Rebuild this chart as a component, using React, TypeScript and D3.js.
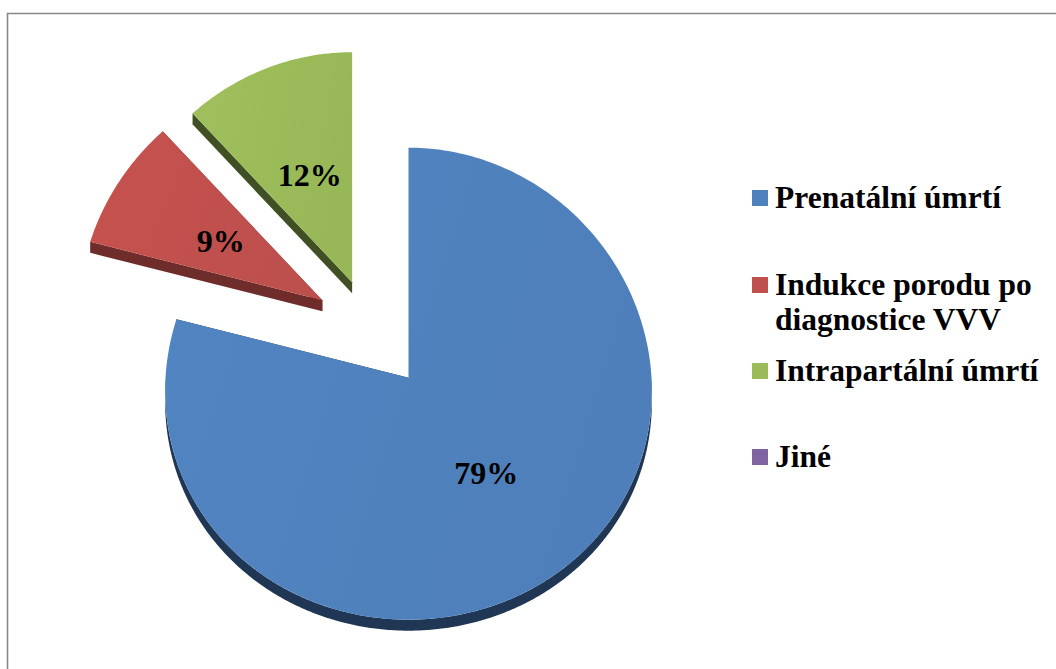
import React from "react";
import * as d3 from "d3";

const categories = ["Prenatální úmrtí", "Indukce porodu po diagnostice VVV", "Intrapartální úmrtí", "Jiné"];
const legendLines = [["Prenatální úmrtí"], ["Indukce porodu po", "diagnostice VVV"], ["Intrapartální úmrtí"], ["Jiné"]];
const values = [79, 9, 12, 0];
const topColors = ["#4F81BD", "#C0504D", "#9BBB59", "#8064A2"];
const sideColors = ["#1F3654", "#6E2C2A", "#414F25", "#3E2F52"];
const explode = [62, 56, 50, 0];

const W = 1056, H = 669;
const C = { x: 370.5, y: 328.7 };
const RX = 243, RY = 236, PERSP_Y = 6, PERSP_X = 0.056, DEPTH = 11;

function proj(ax: number, ay: number, th: number, f = 1) {
  const s = 1 - PERSP_X * Math.cos(th);
  const x = ax + RX * Math.sin(th) * s * f;
  const y = ay + f * (-RY * Math.cos(th) + PERSP_Y * Math.cos(th) * Math.cos(th));
  return [x, y];
}

export default function App() {
  const pie = d3.pie<number>().sort(null).startAngle(0).endAngle(2 * Math.PI);
  const arcs = pie(values);
  const slices = arcs
    .map((a, i) => {
      if (a.endAngle - a.startAngle <= 0) return null;
      const mid = (a.startAngle + a.endAngle) / 2;
      const ax = C.x + explode[i] * Math.sin(mid);
      const ay = C.y - explode[i] * Math.cos(mid);
      const steps = Math.max(4, Math.ceil(((a.endAngle - a.startAngle) * 180) / Math.PI));
      const angs = d3.range(steps + 1).map((k) => a.startAngle + ((a.endAngle - a.startAngle) * k) / steps);
      const topPts = angs.map((t) => proj(ax, ay, t));
      const line = d3.line();
      const top = line([[ax, ay], ...topPts] as [number, number][]) + "Z";
      const lo = Math.max(a.startAngle, Math.PI / 2);
      const hi = Math.min(a.endAngle, (3 * Math.PI) / 2);
      let wall: string | null = null;
      if (hi > lo) {
        const n = Math.ceil(((hi - lo) * 180) / Math.PI) * 2;
        const wa = d3.range(n + 1).map((k) => lo + ((hi - lo) * k) / n);
        const up = wa.map((t) => proj(ax, ay, t));
        const dn = wa.map((t) => { const p = proj(ax, ay, t); return [p[0], p[1] + DEPTH]; }).reverse();
        wall = line([...up, ...dn] as [number, number][]) + "Z";
      }
      const radial = [a.startAngle, a.endAngle].map((t) => {
        const p = proj(ax, ay, t);
        return line([[ax, ay], p, [p[0], p[1] + DEPTH], [ax, ay + DEPTH]] as [number, number][]) + "Z";
      });
      const lp = proj(ax, ay, mid, 0.5);
      return { i, top, wall, radial, lp, label: Math.round((values[i] / d3.sum(values)) * 100) + "%" };
    })
    .filter(Boolean) as any[];

  const legendX = 752;
  const legendRows = [198, 285, 371, 457];

  return (
    <svg width={W} height={H} style={{ position: "absolute", left: 0, top: 0 }} fontFamily="'Liberation Serif', 'Times New Roman', serif">
      <defs>
        {topColors.map((c, i) => (
          <linearGradient key={i} id={"g" + i} x1="0" y1="0" x2="1" y2="0.3">
            <stop offset="0" stopColor={d3.color(c)!.brighter(0.08).toString()} />
            <stop offset="1" stopColor={d3.color(c)!.darker(0.05).toString()} />
          </linearGradient>
        ))}
      </defs>
      <rect x={0} y={0} width={W} height={H} fill="#fff" />
      <path d={`M7.5,${H + 5} L7.5,13.5 L${W + 5},13.5`} fill="none" stroke="#878787" strokeWidth={1.6} />
      {slices.map((s) => (
        <g key={"side" + s.i}>
          {s.radial.map((d: string, k: number) => (
            <path key={k} d={d} fill={sideColors[s.i]} />
          ))}
          {s.wall && <path d={s.wall} fill={sideColors[s.i]} />}
        </g>
      ))}
      {slices.map((s) => (
        <path key={"top" + s.i} d={s.top} fill={`url(#g${s.i})`} />
      ))}
      {slices.map((s) => (
        <text key={"lab" + s.i} x={s.lp[0]} y={s.lp[1]} dy="0.34em" textAnchor="middle" fontSize={32} fontWeight="bold" fill="#000">
          {s.label}
        </text>
      ))}
      {categories.map((c, i) => (
        <g key={c}>
          <rect x={legendX} y={legendRows[i] - 8} width={16} height={16} fill={topColors[i]} />
          {legendLines[i].map((ln, k) => (
            <text key={k} x={775} y={legendRows[i] + 10 + k * 35} fontSize={31.5} fontWeight="bold" fill="#000">
              {ln}
            </text>
          ))}
        </g>
      ))}
    </svg>
  );
}
